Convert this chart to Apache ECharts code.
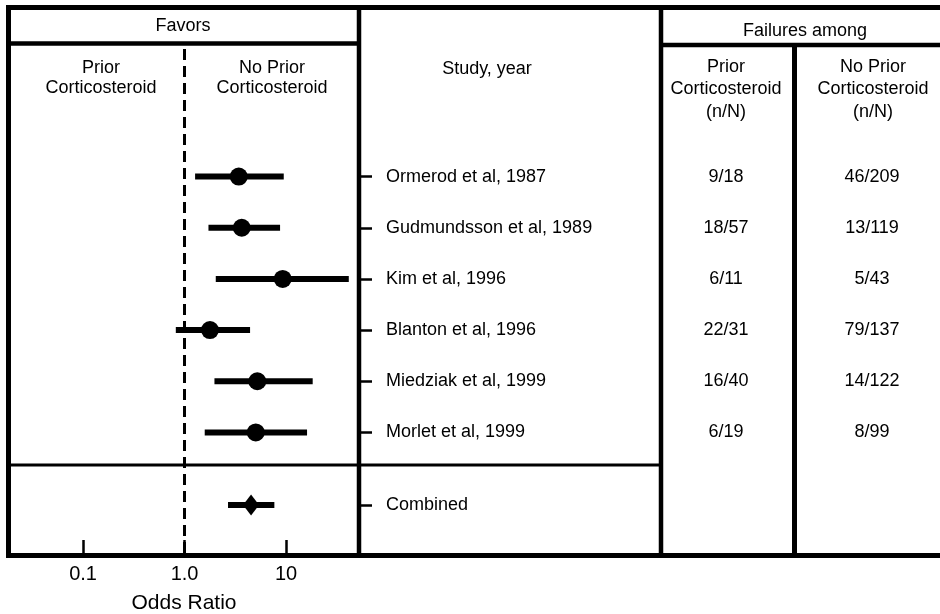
<!DOCTYPE html>
<html>
<head>
<meta charset="utf-8">
<title>Forest plot</title>
<script src="https://cdn.jsdelivr.net/npm/echarts@6/dist/echarts.min.js"></script>
<style>
    html, body { margin: 0; height: 100%; background: #fff; }
    #main { width: 940px; height: 614px; }
</style>
</head>
<body>
<div id="main"></div>
<script type="text/javascript">
    // data
    var studies = ['Ormerod et al, 1987', 'Gudmundsson et al, 1989', 'Kim et al, 1996',
                   'Blanton et al, 1996', 'Miedziak et al, 1999', 'Morlet et al, 1999'];
    var oddsRatio = [3.42, 3.66, 9.27, 1.78, 5.21, 5.03];
    var ciLow = [1.27, 1.72, 2.03, 0.82, 1.97, 1.58];
    var ciHigh = [9.49, 8.73, 41.5, 4.42, 18.3, 16.1];
    var priorFail = ['9/18', '18/57', '6/11', '22/31', '16/40', '6/19'];
    var noPriorFail = ['46/209', '13/119', '5/43', '79/137', '14/122', '8/99'];
    var combinedName = ['Combined'];
    var combinedOR = [4.52];
    var combinedLow = [2.68];
    var combinedHigh = [7.67];
    var tickValues = [0.1, 1, 10];
    var tickLabels = ['0.1', '1.0', '10'];

    var FONT = '"Liberation Sans", Arial, Helvetica, sans-serif';
    var XMIN = 0.0195, XMAX = 50;

    var myChart = echarts.init(document.getElementById('main'), null, {renderer: 'canvas'});

    function ciBar(params, api) {
        var row = api.value(2);
        var a = api.coord([api.value(0), row]);
        var b = api.coord([api.value(1), row]);
        return {
            type: 'rect',
            shape: {x: a[0], y: a[1] - 3, width: b[0] - a[0], height: 6},
            style: {fill: '#000'}
        };
    }

    var rowRich = {
        n: {width: 275, align: 'left', fontSize: 18, fontFamily: FONT, color: '#000'},
        a: {width: 130, align: 'center', fontSize: 18, fontFamily: FONT, color: '#000'},
        b: {width: 162, align: 'center', fontSize: 18, fontFamily: FONT, color: '#000'}
    };

    function hidden(grid) {
        return {gridIndex: grid, type: 'log', logBase: 10, min: XMIN, max: XMAX, show: false};
    }

    function rowAxis(grid, names, fmt) {
        return {
            gridIndex: grid, type: 'category', inverse: true, data: names, position: 'right',
            axisLine: {show: false},
            splitLine: {show: false},
            axisTick: {show: true, interval: 0, alignWithLabel: true, length: 15,
                       lineStyle: {color: '#000', width: 2.5}},
            axisLabel: {interval: 0, margin: 29, formatter: fmt, rich: rowRich}
        };
    }

    function line(x1, y1, x2, y2, w) {
        return {type: 'line', shape: {x1: x1, y1: y1, x2: x2, y2: y2},
                style: {stroke: '#000', lineWidth: w}};
    }

    function text(str, x, y, lh) {
        return {type: 'text', style: {text: str, x: x, y: y, align: 'center', verticalAlign: 'middle',
                fontSize: 18, fontFamily: FONT, fill: '#000', lineHeight: lh || 20}};
    }

    var option = {
        animation: false,
        backgroundColor: '#fff',
        grid: [
            {left: 11, width: 346, top: 151, height: 307, outerBoundsMode: 'none'},
            {left: 11, width: 346, top: 457, height: 96, outerBoundsMode: 'none'},
            {left: 11, width: 346, top: 46, height: 507, outerBoundsMode: 'none'}
        ],
        xAxis: [
            hidden(0),
            hidden(1),
            {
                gridIndex: 2, type: 'log', logBase: 10, min: XMIN, max: XMAX,
                axisLine: {show: false},
                splitLine: {show: false},
                axisTick: {show: true, inside: true, length: 13, customValues: tickValues,
                           lineStyle: {color: '#000', width: 2.5}},
                axisLabel: {
                    customValues: tickValues, margin: 11, fontSize: 20, fontFamily: FONT, color: '#000',
                    formatter: function (v) {
                        var i = tickValues.indexOf(Math.round(v * 1000) / 1000);
                        return i >= 0 ? tickLabels[i] : '';
                    }
                },
                name: 'Odds Ratio', nameLocation: 'middle', nameGap: 40,
                nameTextStyle: {fontSize: 21, fontFamily: FONT, color: '#000'}
            }
        ],
        yAxis: [
            rowAxis(0, studies, function (v, i) {
                return '{n|' + v + '}{a|' + priorFail[i] + '}{b|' + noPriorFail[i] + '}';
            }),
            rowAxis(1, combinedName, function (v) {
                return '{n|' + v + '}';
            }),
            {gridIndex: 2, type: 'value', min: 0, max: 1, show: false}
        ],
        series: [
            {
                type: 'custom', xAxisIndex: 0, yAxisIndex: 0, renderItem: ciBar,
                encode: {x: [0, 1], y: 2},
                data: studies.map(function (s, i) { return [ciLow[i], ciHigh[i], i]; })
            },
            {
                type: 'scatter', xAxisIndex: 0, yAxisIndex: 0, symbol: 'circle', symbolSize: 18,
                itemStyle: {color: '#000', opacity: 1},
                data: studies.map(function (s, i) { return [oddsRatio[i], i]; })
            },
            {
                type: 'custom', xAxisIndex: 1, yAxisIndex: 1, renderItem: ciBar,
                encode: {x: [0, 1], y: 2},
                data: combinedName.map(function (s, i) { return [combinedLow[i], combinedHigh[i], i]; })
            },
            {
                type: 'scatter', xAxisIndex: 1, yAxisIndex: 1, symbol: 'diamond', symbolSize: [16, 21],
                itemStyle: {color: '#000', opacity: 1},
                data: combinedName.map(function (s, i) { return [combinedOR[i], i]; })
            },
            {
                type: 'line', xAxisIndex: 2, yAxisIndex: 2, data: [],
                markLine: {
                    silent: true, symbol: ['none', 'none'], label: {show: false},
                    lineStyle: {color: '#000', width: 3, type: [11, 6]},
                    data: [{xAxis: 1}]
                }
            }
        ],
        graphic: [
            // table frame
            line(6, 7.5, 940, 7.5, 5),
            line(8.5, 5, 8.5, 558, 5),
            line(6, 555.5, 940, 555.5, 5),
            line(359, 5, 359, 558, 4.5),
            line(661, 5, 661, 558, 4.5),
            line(794.5, 45, 794.5, 558, 5),
            line(6, 43.5, 359, 43.5, 4.5),
            line(661, 45, 940, 45, 4.5),
            line(8, 465, 661, 465, 3),
            // headers
            text('Favors', 183, 26),
            text('Prior\nCorticosteroid', 101, 78, 19.5),
            text('No Prior\nCorticosteroid', 272, 78, 19.5),
            text('Study, year', 487, 69),
            text('Failures among', 805, 31),
            text('Prior\nCorticosteroid\n(n/N)', 726, 89.5, 22.5),
            text('No Prior\nCorticosteroid\n(n/N)', 873, 89.5, 22.5)
        ]
    };

    myChart.setOption(option);

    window.addEventListener('resize', function () {
        myChart.resize();
    });
</script>
</body>
</html>
